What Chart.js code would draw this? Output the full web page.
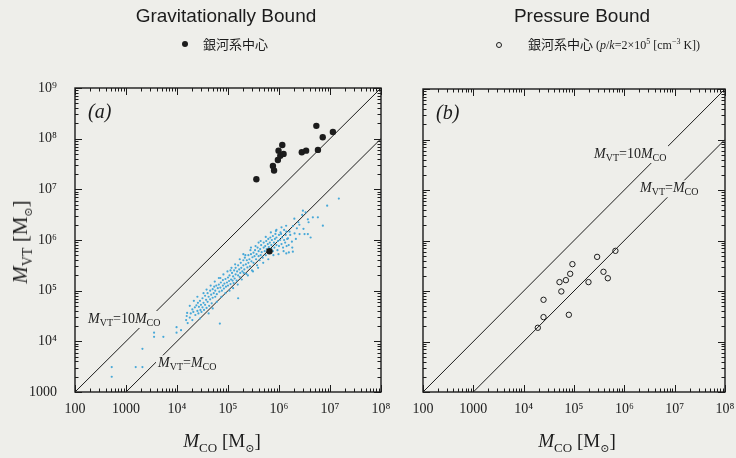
<!DOCTYPE html>
<html><head><meta charset="utf-8">
<script src="https://cdn.jsdelivr.net/npm/chart.js@4.4.1/dist/chart.umd.min.js"></script>
<style>
html,body{margin:0;padding:0;background:#eeeeea;}
#wrap{position:relative;width:736px;height:458px;overflow:hidden;font-family:'Liberation Serif','Times New Roman',serif;color:#1c1c1c;}
canvas{position:absolute;top:0;}
#c1{left:0;}
#c2{left:395px;}
.t{position:absolute;white-space:nowrap;}
.title{font-family:'Liberation Sans',Arial,sans-serif;font-size:19px;line-height:19px;top:6px;transform:translateX(-50%);}
.leg{font-size:13px;line-height:14px;top:37px;}
.lat{font-size:12px;}
.cjk{font-family:'Noto Sans CJK JP',sans-serif;font-size:13px;}
.dot{position:absolute;width:6px;height:6px;border-radius:50%;box-sizing:border-box;}
.axt{font-size:19px;line-height:22px;}
.axy{font-size:21px;}
.axt sub{font-size:13px;vertical-align:baseline;position:relative;top:5px;}
.axy sub{font-size:14px;}
.leg sup{font-size:8px;vertical-align:baseline;position:relative;top:-5px;}
.sun{font-family:'DejaVu Serif',serif;font-size:11px !important;}
</style></head>
<body><div id="wrap">
<canvas id="c1" width="395" height="458"></canvas>
<canvas id="c2" width="341" height="458"></canvas>
<div class="t title" style="left:226px">Gravitationally Bound</div>
<div class="t title" style="left:582px">Pressure Bound</div>
<span class="dot" style="left:182px;top:41px;background:#1c1c1c"></span>
<div class="t leg cjk" style="left:203px">銀河系中心</div>
<span class="dot" style="left:496px;top:42px;border:1px solid #1c1c1c"></span>
<div class="t leg" style="left:528px"><span class="cjk">銀河系中心</span><span class="lat"> (<i>p</i>/<i>k</i>=2×10<sup>5</sup> [cm<sup>−3</sup> K])</span></div>
<div class="t axt" style="left:222px;top:430px;transform:translateX(-50%)"><i>M</i><sub>CO</sub> [M<sub class="sun">⊙</sub>]</div>
<div class="t axt" style="left:577px;top:430px;transform:translateX(-50%)"><i>M</i><sub>CO</sub> [M<sub class="sun">⊙</sub>]</div>
<div class="t axt axy" style="left:22px;top:242px;transform:translate(-50%,-50%) rotate(-90deg)"><i>M</i><sub>VT</sub> [M<sub class="sun">⊙</sub>]</div>
</div>
<script>
// ---- data ----
const xTickValues = [100, 1e3, 1e4, 1e5, 1e6, 1e7, 1e8];
const xTickLabels = ['100', '1000', '10⁴', '10⁵', '10⁶', '10⁷', '10⁸'];
const yTickValues = [1e3, 1e4, 1e5, 1e6, 1e7, 1e8, 1e9];
const yTickLabels = ['1000', '10⁴', '10⁵', '10⁶', '10⁷', '10⁸', '10⁹'];

// Galactic-centre clouds, gravitationally bound (filled circles)
const gcMco = [3.6e5, 7.6e5, 8.0e5, 9.5e5, 9.8e5, 1.16e6, 1.06e6, 1.23e6, 2.8e6, 3.4e6, 5.4e6, 5.8e6, 7.2e6, 1.14e7, 6.5e5];
const gcMvt = [1.58e7, 2.9e7, 2.35e7, 3.8e7, 5.8e7, 7.5e7, 4.6e7, 5.0e7, 5.4e7, 5.8e7, 1.79e8, 6.0e7, 1.07e8, 1.35e8, 6.0e5];

// disk clouds (cyan dots)
const diskMco = [
 525, 525, 1550, 2100, 2100, 3550, 3550, 5400, 9800, 9800, 1.2e4,
 1.51e4, 1.55e4, 1.58e4, 1.62e4, 1.78e4, 1.86e4, 2.0e4, 2.0e4, 2.09e4, 2.24e4,
 2.29e4, 2.4e4, 2.51e4, 2.57e4, 2.63e4, 2.69e4, 2.82e4, 2.88e4, 2.95e4, 3.02e4,
 3.16e4, 3.16e4, 3.31e4, 3.39e4, 3.55e4, 3.55e4, 3.72e4, 3.8e4, 3.98e4, 3.98e4,
 4.17e4, 4.27e4, 4.47e4, 4.47e4, 4.68e4, 4.79e4, 5.01e4, 5.01e4, 5.25e4, 5.37e4,
 5.62e4, 5.62e4, 5.89e4, 6.03e4, 6.31e4, 6.92e4, 6.61e4, 6.76e4, 7.08e4, 7.24e4,
 7.59e4, 7.94e4, 7.94e4, 8.32e4, 8.51e4, 8.91e4, 9.12e4, 9.55e4, 1.0e5, 1.0e5,
 1.05e5, 1.07e5, 1.12e5, 1.15e5, 1.2e5, 1.23e5, 1.26e5, 1.26e5, 1.32e5, 1.35e5,
 1.41e5, 1.41e5, 1.48e5, 1.51e5, 1.58e5, 1.58e5, 1.58e5, 1.66e5, 1.7e5, 1.74e5,
 1.78e5, 1.82e5, 1.91e5, 2.0e5, 2.0e5, 2.09e5, 2.14e5, 2.24e5, 2.29e5, 2.34e5,
 2.4e5, 2.51e5, 2.51e5, 2.63e5, 2.69e5, 2.82e5, 2.88e5, 2.95e5, 3.02e5, 3.16e5,
 3.16e5, 3.31e5, 3.39e5, 3.55e5, 3.63e5, 3.72e5, 3.8e5, 3.98e5, 3.98e5, 4.17e5,
 4.27e5, 4.37e5, 4.47e5, 4.57e5, 4.79e5, 5.01e5, 5.01e5, 5.25e5, 5.37e5, 5.5e5,
 5.62e5, 5.75e5, 6.03e5, 6.17e5, 6.31e5, 6.31e5, 6.61e5, 6.76e5, 7.08e5, 7.08e5,
 7.24e5, 7.59e5, 7.59e5, 7.94e5, 8.13e5, 8.32e5, 8.51e5, 8.91e5, 8.91e5, 9.33e5,
 9.55e5, 1.0e6, 1.0e6, 1.05e6, 1.07e6, 1.12e6, 1.15e6, 1.2e6, 1.26e6, 1.26e6,
 1.32e6, 1.35e6, 1.41e6, 1.45e6,
 1.49e7, 8.8e6, 7.24e6, 5.78e6, 4.61e6, 3.68e6, 3.32e6, 2.94e6, 2.85e6, 3.68e6,
 3.17e6, 2.53e6, 2.24e6, 1.87e6, 1.61e6, 1.5e6, 1.79e6, 1.87e6, 1.56e6, 1.39e6,
 2.02e6, 1.39e6,
 2.0e6, 2.4e6, 1.12e6, 8.91e5, 3.98e5, 2.82e5, 2.0e5, 1.12e5, 7.08e4,
 1.78e4, 2.14e4, 2.51e4, 2.82e4, 3.31e4, 3.8e4, 4.17e4, 4.57e4, 5.01e4, 5.5e4,
 6.03e4, 6.61e4, 7.41e4, 8.13e4, 8.91e4, 9.77e4, 1.07e5, 1.17e5, 1.29e5, 1.38e5,
 1.55e5, 1.7e5, 1.86e5, 2.04e5, 2.19e5, 2.45e5, 2.75e5, 3.09e5, 3.47e5, 3.89e5,
 4.37e5, 4.9e5, 5.5e5, 6.17e5, 6.92e5, 7.76e5, 8.71e5, 9.77e5, 1.1e6, 1.23e6,
 1.38e6, 1.55e6, 1.66e6, 1.82e6, 2.14e6, 2.51e6, 3.02e6, 3.8e6, 4.17e6
];
const diskMvt = [
 3100, 2000, 3100, 3100, 7100, 1.48e4, 1.23e4, 1.23e4, 1.48e4, 1.9e4, 1.66e4,
 2.63e4, 3.16e4, 3.63e4, 2.29e4, 2.95e4, 3.55e4, 4.27e4, 2.63e4, 3.8e4, 4.68e4,
 3.31e4, 5.13e4, 3.98e4, 5.75e4, 3.55e4, 4.79e4, 6.31e4, 4.17e4, 5.25e4, 3.8e4,
 7.08e4, 4.68e4, 5.75e4, 4.17e4, 7.94e4, 5.25e4, 6.61e4, 4.57e4, 8.91e4, 6.03e4,
 7.59e4, 5.01e4, 1.0e5, 6.76e4, 8.32e4, 5.62e4, 1.07e5, 7.24e4, 8.91e4, 1.2e5,
 7.59e4, 1.0e5, 1.26e5, 8.51e4, 1.12e5, 2.24e4, 1.32e5, 9.55e4, 1.15e5, 1.45e5,
 1.0e5, 1.26e5, 1.62e5, 1.1e5, 1.38e5, 1.7e5, 1.2e5, 1.45e5, 1.82e5, 1.26e5,
 1.55e5, 2.0e5, 1.35e5, 1.66e5, 2.24e5, 1.58e5, 1.12e5, 1.91e5, 2.51e5, 1.74e5,
 2.09e5, 2.82e5, 1.58e5, 2.4e5, 7.08e4, 2.0e5, 3.16e5, 2.63e5, 1.86e5, 2.24e5,
 3.55e5, 2.82e5, 2.4e5, 3.98e5, 3.16e5, 2.63e5, 4.47e5, 3.31e5, 2.14e5, 3.98e5,
 2.88e5, 5.01e5, 3.55e5, 4.17e5, 3.02e5, 5.25e5, 3.8e5, 2.51e5, 4.57e5, 5.62e5,
 3.55e5, 4.79e5, 6.31e5, 4.17e5, 5.25e5, 3.16e5, 7.08e5, 4.79e5, 6.03e5, 3.98e5,
 6.61e5, 5.01e5, 7.94e5, 5.75e5, 4.47e5, 7.08e5, 8.91e5, 6.03e5, 7.59e5, 5.01e5,
 9.55e5, 6.61e5, 8.32e5, 1.05e6, 5.62e5, 7.24e5, 8.91e5, 1.12e6, 6.61e5, 7.94e5,
 1.0e6, 6.03e5, 1.2e6, 8.91e5, 7.08e5, 1.05e6, 1.32e6, 7.94e5, 1.12e6, 6.31e5,
 9.55e5, 1.26e6, 7.59e5, 1.0e6, 1.41e6, 8.32e5, 1.12e6, 7.08e5, 1.0e6, 1.58e6,
 8.91e5, 1.26e6, 7.59e5, 1.05e6,
 6.56e6, 4.76e6, 1.92e6, 2.8e6, 2.8e6, 2.56e6, 3.52e6, 3.79e6, 3.12e6, 1.31e6,
 1.31e6, 1.31e6, 1.7e6, 1.89e6, 1.46e6, 1.08e6, 9.25e5, 5.87e5, 5.69e5, 5.44e5,
 1.35e6, 1.46e6,
 2.63e6, 2.24e6, 1.78e6, 1.58e6, 8.91e5, 7.08e5, 5.25e5, 2.51e5, 1.78e5,
 5.01e4, 6.31e4, 7.59e4, 2.82e4, 8.91e4, 1.05e5, 3.55e4, 1.26e5, 4.47e4, 1.51e5,
 6.03e4, 1.78e5, 7.59e4, 2.09e5, 8.91e4, 2.4e5, 1.0e5, 2.82e5, 1.41e5, 3.31e5,
 1.32e5, 4.17e5, 1.66e5, 2.24e5, 5.01e5, 2.0e5, 6.31e5, 2.4e5, 7.59e5, 2.82e5,
 9.55e5, 3.55e5, 1.15e6, 4.17e5, 1.41e6, 5.01e5, 1.51e6, 5.25e5, 1.32e6, 6.03e5,
 1.91e6, 7.94e5, 1.26e6, 7.08e5, 1.05e6, 2.0e6, 1.66e6, 2.24e6, 1.12e6
];

// Galactic-centre clouds, pressure bound (open circles)
const pbMco = [1.91e4, 2.48e4, 2.48e4, 7.9e4, 5.6e4, 5.15e4, 6.9e4, 8.4e4, 9.3e4, 1.94e5, 2.88e5, 3.85e5, 4.7e5, 6.65e5];
const pbMvt = [1.87e4, 3.04e4, 6.7e4, 3.38e4, 9.8e4, 1.5e5, 1.64e5, 2.19e5, 3.4e5, 1.5e5, 4.74e5, 2.4e5, 1.79e5, 6.24e5];

// reference relations M_VT = 10 M_CO and M_VT = M_CO (end points)
const rel10Mco = [100, 1e8];
const rel10Mvt = [1e3, 1e9];
const rel1Mco = [1e3, 1e8];
const rel1Mvt = [1e3, 1e8];

// ---- drawing ----
const INK = '#1c1c1c';
const BG = '#eeeeea';
const CYAN = '#47a8d8';
const SERIF = '"Liberation Serif", "Times New Roman", serif';

const pts = (xs, ys) => xs.map((x, i) => ({x, y: ys[i]}));
const tickCb = (vals, labs) => (v) => {
  const i = vals.findIndex(t => Math.abs(t - v) <= t * 1e-6);
  return i < 0 ? '' : labs[i];
};

function drawRich(ctx, x, yc, parts) {
  const fnt = p => (p.it ? 'italic ' : '') + (p.sub ? '10px ' : '14px ') + SERIF;
  let w = 0;
  for (const p of parts) { ctx.font = fnt(p); w += ctx.measureText(p.t).width; }
  ctx.fillStyle = BG;
  ctx.fillRect(x - 2, yc - 8, w + 4, 17);
  ctx.fillStyle = INK;
  ctx.textBaseline = 'alphabetic';
  ctx.textAlign = 'left';
  let cx = x;
  for (const p of parts) {
    ctx.font = fnt(p);
    ctx.fillText(p.t, cx, yc + 4 + (p.sub ? 3 : 0));
    cx += ctx.measureText(p.t).width;
  }
}

const frameTicks = {
  id: 'frameTicks',
  afterDatasetsDraw(chart, args, o) {
    const {ctx, chartArea: a} = chart;
    const xs = chart.scales.x, ys = chart.scales.y;
    const marks = (s) => {
      const out = [];
      const e0 = Math.round(Math.log10(s.min)), e1 = Math.round(Math.log10(s.max));
      for (let e = e0; e <= e1; e++) for (let m = 1; m <= 9; m++) {
        const v = m * Math.pow(10, e);
        if (v > s.max * 1.0001) continue;
        out.push({p: s.getPixelForValue(v), major: m === 1});
      }
      return out;
    };
    ctx.save();
    ctx.strokeStyle = INK;
    ctx.lineWidth = 1;
    ctx.beginPath();
    for (const t of marks(xs)) {
      const x = Math.round(t.p) + 0.5, L = t.major ? 7 : 3.5;
      ctx.moveTo(x, a.bottom); ctx.lineTo(x, a.bottom - L);
      ctx.moveTo(x, a.top); ctx.lineTo(x, a.top + L);
    }
    for (const t of marks(ys)) {
      const y = Math.round(t.p) + 0.5, L = t.major ? 7 : 3.5;
      ctx.moveTo(a.left, y); ctx.lineTo(a.left + L, y);
      ctx.moveTo(a.right, y); ctx.lineTo(a.right - L, y);
    }
    ctx.stroke();
    ctx.lineWidth = 1.4;
    ctx.strokeRect(a.left, a.top, a.right - a.left, a.bottom - a.top);
    ctx.fillStyle = INK;
    ctx.font = 'italic 20px ' + SERIF;
    ctx.textBaseline = 'alphabetic';
    ctx.fillText(o.tag, a.left + 13, a.top + 30);
    for (const lab of o.labels) {
      drawRich(ctx, xs.getPixelForValue(lab.x), ys.getPixelForValue(lab.y), lab.parts);
    }
    ctx.restore();
  }
};

const lblVT10 = [{t: 'M', it: true}, {t: 'VT', sub: true}, {t: '=10'}, {t: 'M', it: true}, {t: 'CO', sub: true}];
const lblVT1 = [{t: 'M', it: true}, {t: 'VT', sub: true}, {t: '='}, {t: 'M', it: true}, {t: 'CO', sub: true}];

const relationSets = () => [
  {data: pts(rel10Mco, rel10Mvt), showLine: true, borderColor: INK, borderWidth: 1, pointRadius: 0, order: 3},
  {data: pts(rel1Mco, rel1Mvt), showLine: true, borderColor: INK, borderWidth: 1, pointRadius: 0, order: 3}
];

function makeChart(id, datasets, o) {
  return new Chart(document.getElementById(id), {
    type: 'scatter',
    data: {datasets},
    options: {
      responsive: false, animation: false, devicePixelRatio: 1,
      layout: {padding: o.padding},
      plugins: {legend: {display: false}, tooltip: {enabled: false}, frameTicks: {tag: o.tag, labels: o.labels}},
      scales: {
        x: {
          type: 'logarithmic', min: 100, max: 1e8,
          grid: {display: false}, border: {display: false},
          ticks: {autoSkip: false, maxRotation: 0, minRotation: 0, padding: 1, color: INK,
                  font: {family: SERIF, size: 14}, callback: tickCb(xTickValues, xTickLabels)},
          afterFit: s => { s.height = 30; }
        },
        y: {
          type: 'logarithmic', min: 1e3, max: 1e9,
          grid: {display: false}, border: {display: false},
          ticks: {display: o.yLabels, autoSkip: false, padding: 10, color: INK,
                  font: {family: SERIF, size: 14}, callback: tickCb(yTickValues, yTickLabels)},
          afterFit: s => { s.width = o.yWidth; }
        }
      }
    },
    plugins: [frameTicks]
  });
}

makeChart('c1', [
  {data: pts(gcMco, gcMvt), pointRadius: 3.2, backgroundColor: INK, borderWidth: 0, order: 1},
  {data: pts(diskMco, diskMvt), pointRadius: 1.1, backgroundColor: CYAN, borderWidth: 0, order: 2},
  ...relationSets()
], {
  padding: {left: 25, right: 14, top: 88, bottom: 36},
  yWidth: 50, yLabels: true, tag: '(a)',
  labels: [{x: 180, y: 2.76e4, parts: lblVT10}, {x: 4240, y: 3.68e3, parts: lblVT1}]
});

makeChart('c2', [
  {data: pts(pbMco, pbMvt), pointRadius: 2.7, backgroundColor: 'rgba(0,0,0,0)', borderColor: INK, borderWidth: 1, order: 1},
  ...relationSets()
], {
  padding: {left: 28, right: 11, top: 89, bottom: 36},
  yWidth: 0, yLabels: false, tag: '(b)',
  labels: [{x: 2.5e5, y: 5.16e7, parts: lblVT10}, {x: 2.05e6, y: 1.08e7, parts: lblVT1}]
});
</script>
</body></html>
